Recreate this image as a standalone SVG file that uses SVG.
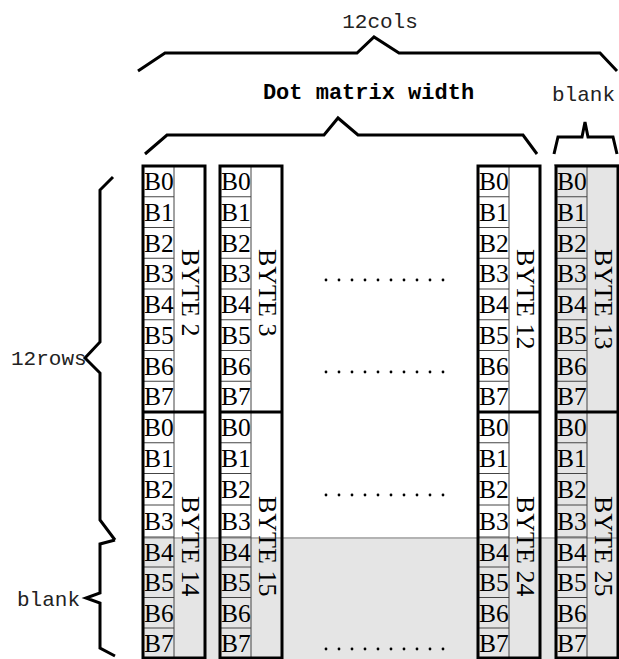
<svg xmlns="http://www.w3.org/2000/svg" width="619" height="659" viewBox="0 0 619 659">
<style>
.mono{font-family:"Liberation Mono","DejaVu Sans Mono",monospace;font-size:21px;fill:#222}
.bold{font-weight:bold;font-size:22px;fill:#000}
.b{font-family:"Liberation Serif","Times New Roman",serif;font-size:25.5px;fill:#000}
.byte{font-family:"Liberation Serif","Times New Roman",serif;font-size:26px;fill:#000}
.brace{fill:none;stroke:#000;stroke-width:3;stroke-linejoin:miter}
.outer{fill:none;stroke:#000;stroke-width:3}
.thin{stroke:#444;stroke-width:1}
.thick{stroke:#000;stroke-width:3}
.dot{fill:#000}
</style>
<defs>
<g id="bcells">
<line class="thin" x1="0" y1="196.75" x2="31" y2="196.75"/>
<line class="thin" x1="0" y1="227.5" x2="31" y2="227.5"/>
<line class="thin" x1="0" y1="258.25" x2="31" y2="258.25"/>
<line class="thin" x1="0" y1="289" x2="31" y2="289"/>
<line class="thin" x1="0" y1="319.75" x2="31" y2="319.75"/>
<line class="thin" x1="0" y1="350.5" x2="31" y2="350.5"/>
<line class="thin" x1="0" y1="381.25" x2="31" y2="381.25"/>
<line class="thin" x1="0" y1="442.75" x2="31" y2="442.75"/>
<line class="thin" x1="0" y1="473.5" x2="31" y2="473.5"/>
<line class="thin" x1="0" y1="505" x2="31" y2="505"/>
<line class="thin" x1="0" y1="537" x2="31" y2="537"/>
<line class="thin" x1="0" y1="567" x2="31" y2="567"/>
<line class="thin" x1="0" y1="597.5" x2="31" y2="597.5"/>
<line class="thin" x1="0" y1="628" x2="31" y2="628"/>
<line class="thin" x1="31" y1="166" x2="31" y2="658"/>
<line class="thick" x1="0" y1="412" x2="62" y2="412"/>
<rect class="outer" x="0" y="166" width="62" height="492"/>
<text class="b" x="1" y="190">B0</text>
<text class="b" x="1" y="220.75">B1</text>
<text class="b" x="1" y="251.5">B2</text>
<text class="b" x="1" y="282.25">B3</text>
<text class="b" x="1" y="313">B4</text>
<text class="b" x="1" y="343.75">B5</text>
<text class="b" x="1" y="374.5">B6</text>
<text class="b" x="1" y="405.25">B7</text>
<text class="b" x="1" y="436">B0</text>
<text class="b" x="1" y="466.75">B1</text>
<text class="b" x="1" y="498">B2</text>
<text class="b" x="1" y="529.5">B3</text>
<text class="b" x="1" y="560.5">B4</text>
<text class="b" x="1" y="591">B5</text>
<text class="b" x="1" y="621.5">B6</text>
<text class="b" x="1" y="652">B7</text>
</g>
<g id="dots">
<circle class="dot" cx="326" cy="0" r="1.4"/>
<circle class="dot" cx="339" cy="0" r="1.4"/>
<circle class="dot" cx="352" cy="0" r="1.4"/>
<circle class="dot" cx="365" cy="0" r="1.4"/>
<circle class="dot" cx="378" cy="0" r="1.4"/>
<circle class="dot" cx="391" cy="0" r="1.4"/>
<circle class="dot" cx="404" cy="0" r="1.4"/>
<circle class="dot" cx="417" cy="0" r="1.4"/>
<circle class="dot" cx="430" cy="0" r="1.4"/>
<circle class="dot" cx="443" cy="0" r="1.4"/>
</g>
</defs>
<rect width="619" height="659" fill="#fff"/>
<g id="blank-area">
<rect x="556" y="166" width="62" height="492" fill="#e5e5e5"/>
<line x1="554" y1="165" x2="619" y2="165" stroke="#b3b3b3" stroke-width="2"/>
<rect x="143" y="537" width="475" height="122" fill="#e5e5e5"/>
<line x1="143" y1="538" x2="618" y2="538" stroke="#b3b3b3" stroke-width="2"/>
</g>
<g id="col-byte2-14" transform="translate(143,0)">
<use href="#bcells"/>
<text class="byte" transform="translate(38.5,249) rotate(90)">BYTE 2</text>
<text class="byte" transform="translate(38.5,496) rotate(90)">BYTE 14</text>
</g>
<g id="col-byte3-15" transform="translate(220,0)">
<use href="#bcells"/>
<text class="byte" transform="translate(38.5,249) rotate(90)">BYTE 3</text>
<text class="byte" transform="translate(38.5,496) rotate(90)">BYTE 15</text>
</g>
<g id="col-byte12-24" transform="translate(478,0)">
<use href="#bcells"/>
<text class="byte" transform="translate(38.5,249) rotate(90)">BYTE 12</text>
<text class="byte" transform="translate(38.5,496) rotate(90)">BYTE 24</text>
</g>
<g id="col-byte13-25" transform="translate(556,0)">
<use href="#bcells"/>
<text class="byte" transform="translate(38.5,249) rotate(90)">BYTE 13</text>
<text class="byte" transform="translate(38.5,496) rotate(90)">BYTE 25</text>
</g>
<g id="ellipsis">
<use href="#dots" y="280"/>
<use href="#dots" y="372"/>
<use href="#dots" y="495"/>
<use href="#dots" y="649"/>
</g>
<g id="braces">
<polyline class="brace" points="138,71 165,53 357,53 374,37 399,53 600,53 617,71"/>
<polyline class="brace" points="145,154 167,135 324,135 338,118 358,135 523,135 537,154"/>
<polyline class="brace" points="554,154 558,137 582,137 585,122 588,137 613,137 617,154"/>
<polyline class="brace" points="113,177 100,190 100,342 85,358 100,373 100,520 115,540"/>
<polyline class="brace" points="115,540 100,544 100,593 86,598 100,603 100,648 115,656"/>
</g>
<g id="labels">
<text class="mono" x="380" y="28" text-anchor="middle">12cols</text>
<text class="mono bold" x="368.5" y="99" text-anchor="middle">Dot matrix width</text>
<text class="mono" x="552" y="101">blank</text>
<text class="mono" x="11" y="365">12rows</text>
<text class="mono" x="17" y="606">blank</text>
</g>
</svg>
